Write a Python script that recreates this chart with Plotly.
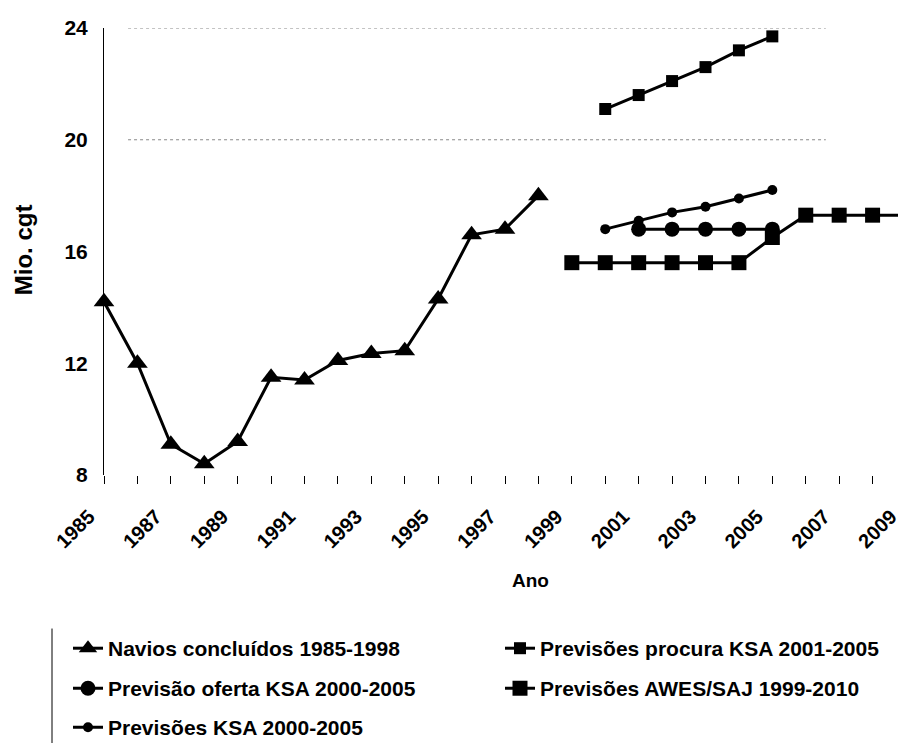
import plotly.graph_objects as go

# ---- data ----
years_navios = list(range(1985, 1999))
navios = [14.2, 12.0, 9.1, 8.4, 9.2, 11.5, 11.4, 12.1, 12.35, 12.45, 14.3, 16.6, 16.8, 18.0]

years_procura = list(range(2000, 2006))
procura = [21.1, 21.6, 22.1, 22.6, 23.2, 23.7]

years_oferta = list(range(2001, 2006))
oferta = [16.8, 16.8, 16.8, 16.8, 16.8]

years_awes = list(range(1999, 2011))
awes = [15.6, 15.6, 15.6, 15.6, 15.6, 15.6, 16.5, 17.3, 17.3, 17.3, 17.3, 17.3]

years_ksa = list(range(2000, 2006))
ksa = [16.8, 17.1, 17.4, 17.6, 17.9, 18.2]

y_ticks = [8, 12, 16, 20, 24]
grid_levels = [20, 24]

names = ["Navios concluídos 1985-1998", "Previsões procura KSA 2001-2005",
         "Previsão oferta KSA 2000-2005", "Previsões AWES/SAJ 1999-2010",
         "Previsões KSA 2000-2005"]

FONT = "Liberation Sans, Arial, sans-serif"
BLACK = "#000000"

fig = go.Figure()

def add(x, y, name, symbol, size, legend):
    fig.add_trace(go.Scatter(
        x=x, y=y, name=name, mode="lines+markers",
        line=dict(color=BLACK, width=3),
        marker=dict(symbol=symbol, size=size, color=BLACK),
        cliponaxis=False, legend=legend,
    ))

add(years_navios, navios, names[0], "triangle-up", 18, "legend")
add(years_procura, procura, names[1], "square", 12, "legend2")
add(years_oferta, oferta, names[2], "circle", 15, "legend3")
add(years_awes, awes, names[3], "square", 15, "legend4")
add(years_ksa, ksa, names[4], "circle", 10, "legend5")

# the page has an 8px body margin, so the figure is 8px smaller and
# coordinates below are given in page pixels, minus that offset
OFF = 8
W, H = 906 - OFF, 743 - OFF
L, R, T = 104 - OFF, 0, 28 - OFF
B = H - (474.6 - OFF)
ph = H - T - B
pw = W - L - R

def py(ypix):
    return (H - B - (ypix - OFF)) / ph

def px(xpix):
    return (xpix - OFF - L) / pw

legend_font = dict(family=FONT, size=21, color=BLACK, weight="bold")
leg_common = dict(font=legend_font, bgcolor="rgba(0,0,0,0)", borderwidth=0,
                  xanchor="left", yanchor="middle", orientation="h",
                  itemsizing="trace")

col1, col2 = 68, 500
rows = [648, 688, 727]
fig.update_layout(
    legend=dict(x=px(col1), y=py(rows[0]), **leg_common),
    legend2=dict(x=px(col2), y=py(rows[0]), **leg_common),
    legend3=dict(x=px(col1), y=py(rows[1]), **leg_common),
    legend4=dict(x=px(col2), y=py(rows[1]), **leg_common),
    legend5=dict(x=px(col1), y=py(rows[2]), **leg_common),
)

fig.update_layout(
    width=W, height=H,
    margin=dict(l=L, r=R, t=T, b=B, pad=0, autoexpand=False),
    paper_bgcolor="white", plot_bgcolor="white",
    showlegend=True,
    font=dict(family=FONT, color=BLACK),
    xaxis=dict(
        range=[1985, 2009], tickmode="linear", tick0=1985, dtick=2,
        tickangle=-45, tickfont=dict(family=FONT, size=20, color=BLACK, weight="bold"),
        ticks="outside", ticklen=8, tickwidth=1, tickcolor=BLACK,
        ticklabelstandoff=13, ticklabelshift=-15, automargin=False,
        minor=dict(dtick=1, ticks="outside", ticklen=8, tickwidth=1, tickcolor=BLACK),
        showgrid=False, showline=False, zeroline=False,
    ),
    yaxis=dict(
        range=[8, 24], tickvals=y_ticks, automargin=False,
        tickfont=dict(family=FONT, size=21, color=BLACK, weight="bold"),
        ticks="", ticklabelstandoff=11,
        showgrid=False, showline=True, linecolor=BLACK, linewidth=1,
        zeroline=False,
    ),
)

for g in grid_levels:
    fig.add_shape(type="line", xref="paper", yref="y", x0=0.03, x1=0.9, y0=g, y1=g,
                  line=dict(color="#888888", width=1, dash="dot"), layer="below")

# legend box side borders
fig.add_shape(type="line", xref="paper", yref="paper", x0=px(52), x1=px(52),
              y0=py(628), y1=py(760), line=dict(color=BLACK, width=1))
fig.add_shape(type="line", xref="paper", yref="paper", x0=px(903), x1=px(903),
              y0=py(628), y1=py(705), line=dict(color=BLACK, width=1))

fig.add_annotation(text="<b>Mio. cgt</b>", textangle=-90, xref="paper", yref="paper",
                   x=px(23), y=py(250), xanchor="center", yanchor="middle",
                   showarrow=False, font=dict(family=FONT, size=24, color=BLACK))
fig.add_annotation(text="<b>Ano</b>", xref="paper", yref="paper",
                   x=px(530), y=py(580), xanchor="center", yanchor="middle",
                   showarrow=False, font=dict(family=FONT, size=19, color=BLACK))

fig.write_html("out.html")
